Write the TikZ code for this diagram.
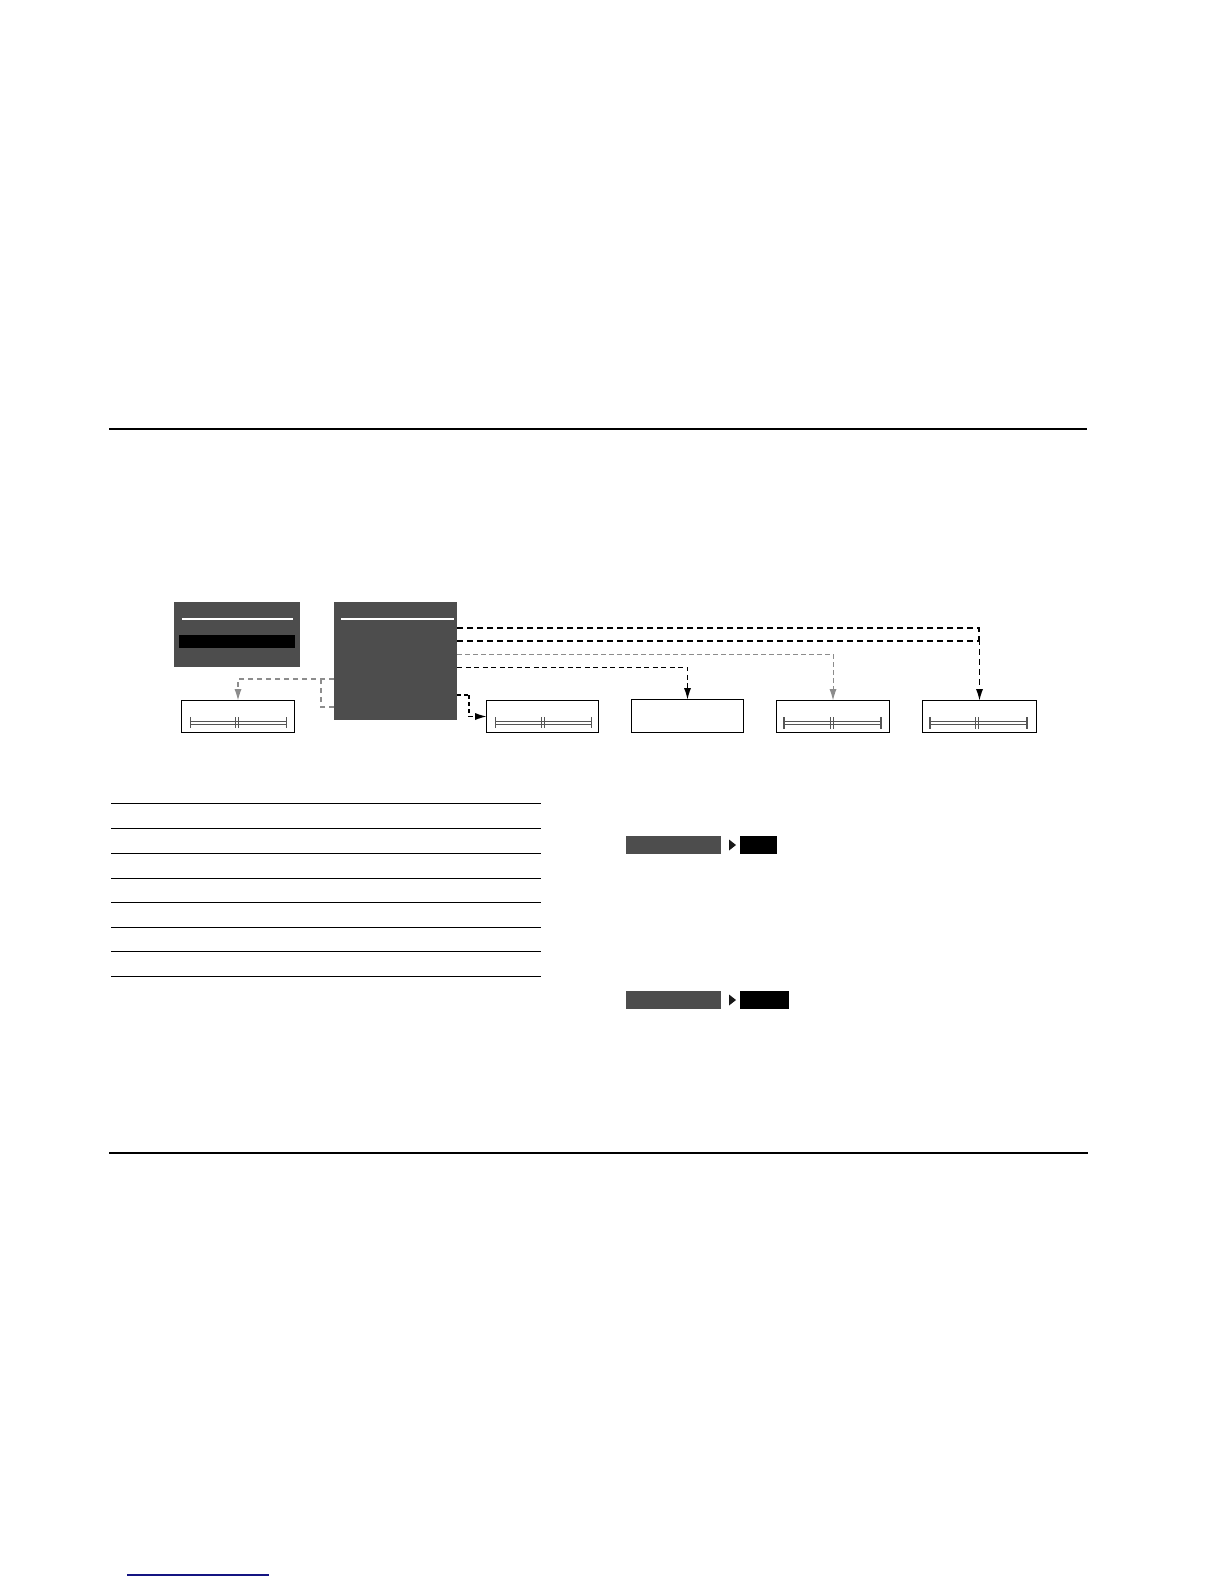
\documentclass[tikz,border=0pt]{standalone}
\usetikzlibrary{arrows.meta,calc}
\definecolor{panel}{RGB}{77,77,77}
\definecolor{linkgray}{RGB}{140,140,140}
\definecolor{railgray}{RGB}{85,85,85}
\definecolor{navy}{RGB}{20,20,130}
\begin{document}
\begin{tikzpicture}[x=1pt,y=-1pt,
  panelbox/.style={draw=none,fill=panel,inner sep=0pt,anchor=north west},
  whitebox/.style={draw=black,line width=1pt,fill=white,inner sep=0pt,anchor=north west},
  rule/.style={line width=1.1pt,black},
  tabrule/.style={line width=1pt,black},
  tipb/.style={-{Latex[length=11pt,width=7pt,line width=0pt]}},
  linkA/.style={black,line width=1.7pt,dash pattern=on 6pt off 4pt},
  linkB/.style={black,line width=1pt,dash pattern=on 5pt off 3.5pt},
  linkC/.style={linkgray,line width=0.8pt,dash pattern=on 5pt off 3pt},
  linkD/.style={linkgray,line width=1.5pt,dash pattern=on 5pt off 4pt},
  linkE/.style={black,line width=1.7pt,dash pattern=on 4pt off 3pt},
  thinrail/.style={railgray,line width=0.7pt},
  thickrail/.style={railgray,line width=1.4pt},
  keygray/.style={fill=panel,draw=none,inner sep=0pt,anchor=north west},
  keyblack/.style={fill=black,draw=none,inner sep=0pt,anchor=north west}]
\useasboundingbox (0,0) rectangle (1224,1584);
\fill[white] (0,0) rectangle (1224,1584);

% page rules
\draw[rule] (109,429) -- (1087,429);
\draw[rule] (109,1153) -- (1088,1153);
\draw[navy,line width=1.2pt] (127,1575) -- (269,1575);

% panels
\node[panelbox,minimum width=126pt,minimum height=65pt] (A) at (174,602) {};
\draw[white,line width=1.6pt] (182,619) -- (293,619);
\fill[black] (179,635) rectangle (295,648);
\node[panelbox,minimum width=123pt,minimum height=118pt] (B) at (334,602) {};
\draw[white,line width=1.6pt] (341,619) -- (454,619);

% target boxes
\node[whitebox,minimum width=113pt,minimum height=32pt] (C1) at (181,700) {};
\node[whitebox,minimum width=112pt,minimum height=32pt] (C2) at (486,700) {};
\node[whitebox,minimum width=112pt,minimum height=33pt] (C3) at (631,699) {};
\node[whitebox,minimum width=113pt,minimum height=32pt] (C4) at (776,700) {};
\node[whitebox,minimum width=114pt,minimum height=32pt] (C5) at (922,700) {};

% sliders (thin)
\foreach \xa/\xm/\xb in {190/235/286, 495/541/591}{
  \draw[thinrail] (\xa,721.5) rectangle (\xb,724.5);
  \draw[thinrail] (\xa,717) -- (\xa,728);
  \draw[thinrail] (\xb,717) -- (\xb,728);
  \draw[thinrail] (\xm,717) -- (\xm,728);
  \draw[thinrail] (\xm+3,717) -- (\xm+3,728);
}
% sliders (thick)
\foreach \xa/\xm/\xb in {784/830/881, 930/975/1027}{
  \draw[thickrail] (\xa,721.5) -- (\xb,721.5);
  \draw[thickrail] (\xa,724.5) -- (\xb,724.5);
  \draw[railgray,line width=2pt] (\xa,717) -- (\xa,729);
  \draw[railgray,line width=2pt] (\xb,717) -- (\xb,729);
  \draw[thinrail,line width=1pt] (\xm,717) -- (\xm,729);
  \draw[thinrail,line width=1pt] (\xm+3,717) -- (\xm+3,729);
}

% connectors
\coordinate (j1) at (979,641);
\coordinate (k1) at (469,695);
\coordinate (g1) at (321,679);
\draw[linkA] (B.east |- 0,628) -| (j1);
\draw[linkA,tipb] (B.east |- 0,641) -| (C5.north);
\draw[linkC,tipb] (B.east |- 0,654) -| (C4.north);
\draw[linkB,tipb] (B.east |- 0,667) -| (C3.north);
\draw[linkE] (B.east |- k1) -- (k1);
\draw[linkE,tipb] (k1) |- (C2.west);
\draw[linkD,tipb] (B.west |- g1) -| (C1.north);
\draw[linkD] (B.west |- 0,707) -| (g1);

% table rules
\foreach \y in {803,828,853,878,902,927,951,976}{
  \draw[tabrule] (111,\y) -- (541,\y);
}

% key sequences
\node[keygray,minimum width=95pt,minimum height=18pt] (K1) at (626,836) {};
\node[keyblack,minimum width=37pt,minimum height=18pt] (L1) at (740,836) {};
\fill[black!90] (729,839.5) -- (736,845) -- (729,850.5) -- cycle;
\node[keygray,minimum width=95pt,minimum height=18pt] (K2) at (626,991) {};
\node[keyblack,minimum width=49pt,minimum height=18pt] (L2) at (740,991) {};
\fill[black!90] (729,994.5) -- (736,1000) -- (729,1005.5) -- cycle;
\end{tikzpicture}
\end{document}
